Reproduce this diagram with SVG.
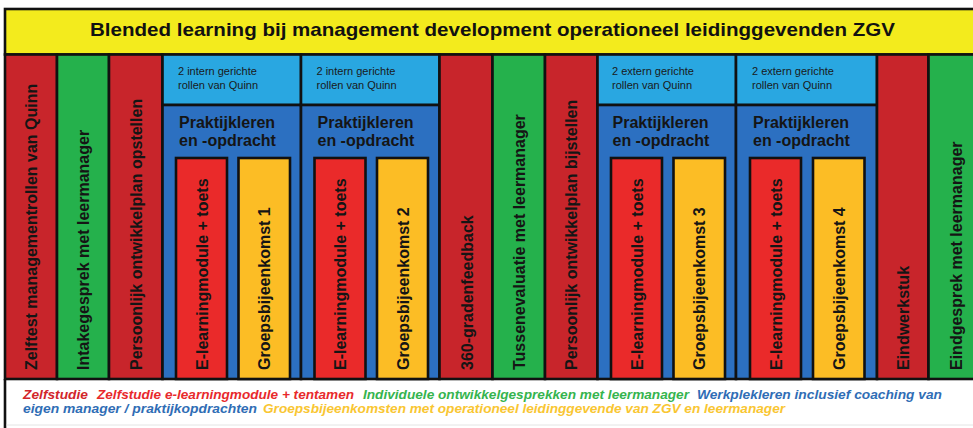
<svg xmlns="http://www.w3.org/2000/svg" width="973" height="428" viewBox="0 0 973 428">
  <style>
    .box { stroke: #111; stroke-width: 2.6; }
    .red { fill: #c8252b; }
    .red2 { fill: #ea2a2a; }
    .green { fill: #25b14c; }
    .yellow { fill: #fcbd25; }
    .lblue { fill: #29a7e1; }
    .dblue { fill: #2c70c1; }
    .title { fill: #f3eb1d; }
    .vt { font-family: "Liberation Sans", Arial, sans-serif; font-weight: bold; font-size: 16px; fill: #151515; }
    .small { font-family: "Liberation Sans", Arial, sans-serif; font-size: 11px; fill: #1a1a1a; }
    .pk { font-family: "Liberation Sans", Arial, sans-serif; font-weight: bold; font-size: 16px; fill: #151515; }
    .lg { font-family: "Liberation Sans", Arial, sans-serif; font-weight: bold; font-style: italic; font-size: 13.5px; }
  </style>

  <rect x="0" y="0" width="973" height="428" fill="#ffffff"/>

  <!-- title bar -->
  <g id="title">
    <rect class="box title" x="5" y="9" width="972" height="45.5"/>
    <text x="90" y="36" font-family="Liberation Sans, Arial, sans-serif" font-weight="bold" font-size="18.5" fill="#111" textLength="805" lengthAdjust="spacingAndGlyphs">Blended learning bij management development operationeel leidinggevenden ZGV</text>
  </g>

  <!-- single-step columns -->
  <g id="zelftest">
    <rect class="box red" x="5" y="54.5" width="52" height="324.5"/>
    <text class="vt" transform="translate(37,370) rotate(-90)">Zelftest managementrollen van Quinn</text>
  </g>
  <g id="intakegesprek">
    <rect class="box green" x="57" y="54.5" width="52" height="324.5"/>
    <text class="vt" transform="translate(89,370) rotate(-90)">Intakegesprek met leermanager</text>
  </g>
  <g id="pop-opstellen">
    <rect class="box red" x="109" y="54.5" width="53.5" height="324.5"/>
    <text class="vt" transform="translate(142,370) rotate(-90)">Persoonlijk ontwikkelplan opstellen</text>
  </g>

  <!-- block 1 -->
  <g id="blok1">
    <rect class="box lblue" x="162.5" y="54.5" width="138.5" height="50.5"/>
    <text class="small" x="178" y="75">2 intern gerichte</text>
    <text class="small" x="178" y="89">rollen van Quinn</text>
    <rect class="box dblue" x="162.5" y="105" width="138.5" height="274"/>
    <text class="pk" x="179" y="128">Praktijkleren</text>
    <text class="pk" x="179" y="146">en -opdracht</text>
    <g id="elearning1">
      <rect class="box red2" x="176" y="158" width="51" height="221"/>
      <text class="vt" transform="translate(207.5,370) rotate(-90)">E-learningmodule + toets</text>
    </g>
    <g id="groep1">
      <rect class="box yellow" x="238.5" y="158" width="51.5" height="221"/>
      <text class="vt" transform="translate(270,370) rotate(-90)">Groepsbijeenkomst 1</text>
    </g>
  </g>

  <!-- block 2 -->
  <g id="blok2">
    <rect class="box lblue" x="301" y="54.5" width="138.5" height="50.5"/>
    <text class="small" x="316.5" y="75">2 intern gerichte</text>
    <text class="small" x="316.5" y="89">rollen van Quinn</text>
    <rect class="box dblue" x="301" y="105" width="138.5" height="274"/>
    <text class="pk" x="317.5" y="128">Praktijkleren</text>
    <text class="pk" x="317.5" y="146">en -opdracht</text>
    <g id="elearning2">
      <rect class="box red2" x="314.5" y="158" width="51" height="221"/>
      <text class="vt" transform="translate(346,370) rotate(-90)">E-learningmodule + toets</text>
    </g>
    <g id="groep2">
      <rect class="box yellow" x="377" y="158" width="51" height="221"/>
      <text class="vt" transform="translate(408.5,370) rotate(-90)">Groepsbijeenkomst 2</text>
    </g>
  </g>

  <g id="feedback360">
    <rect class="box red" x="439.5" y="54.5" width="53" height="324.5"/>
    <text class="vt" transform="translate(472.5,370) rotate(-90)">360-gradenfeedback</text>
  </g>
  <g id="tussenevaluatie">
    <rect class="box green" x="492.5" y="54.5" width="52.5" height="324.5"/>
    <text class="vt" transform="translate(525,370) rotate(-90)">Tussenevaluatie met leermanager</text>
  </g>
  <g id="pop-bijstellen">
    <rect class="box red" x="545" y="54.5" width="52.5" height="324.5"/>
    <text class="vt" transform="translate(577,370) rotate(-90)">Persoonlijk ontwikkelplan bijstellen</text>
  </g>

  <!-- block 3 -->
  <g id="blok3">
    <rect class="box lblue" x="597.5" y="54.5" width="138.5" height="50.5"/>
    <text class="small" x="612" y="75">2 extern gerichte</text>
    <text class="small" x="612" y="89">rollen van Quinn</text>
    <rect class="box dblue" x="597.5" y="105" width="138.5" height="274"/>
    <text class="pk" x="612.5" y="128">Praktijkleren</text>
    <text class="pk" x="612.5" y="146">en -opdracht</text>
    <g id="elearning3">
      <rect class="box red2" x="611" y="158" width="51" height="221"/>
      <text class="vt" transform="translate(642.5,370) rotate(-90)">E-learningmodule + toets</text>
    </g>
    <g id="groep3">
      <rect class="box yellow" x="673.5" y="158" width="51.5" height="221"/>
      <text class="vt" transform="translate(705,370) rotate(-90)">Groepsbijeenkomst 3</text>
    </g>
  </g>

  <!-- block 4 -->
  <g id="blok4">
    <rect class="box lblue" x="736" y="54.5" width="141" height="50.5"/>
    <text class="small" x="752" y="75">2 extern gerichte</text>
    <text class="small" x="752" y="89">rollen van Quinn</text>
    <rect class="box dblue" x="736" y="105" width="141" height="274"/>
    <text class="pk" x="753" y="128">Praktijkleren</text>
    <text class="pk" x="753" y="146">en -opdracht</text>
    <g id="elearning4">
      <rect class="box red2" x="750" y="158" width="51" height="221"/>
      <text class="vt" transform="translate(781.5,370) rotate(-90)">E-learningmodule + toets</text>
    </g>
    <g id="groep4">
      <rect class="box yellow" x="813" y="158" width="51.5" height="221"/>
      <text class="vt" transform="translate(845,370) rotate(-90)">Groepsbijeenkomst 4</text>
    </g>
  </g>

  <g id="eindwerkstuk">
    <rect class="box red" x="877" y="54.5" width="51.5" height="324.5"/>
    <text class="vt" transform="translate(909,370) rotate(-90)">Eindwerkstuk</text>
  </g>
  <g id="eindgesprek">
    <rect class="box green" x="928.5" y="54.5" width="50" height="324.5"/>
    <text class="vt" transform="translate(962,370) rotate(-90)">Eindgesprek met leermanager</text>
  </g>

  <!-- legend -->
  <g id="legenda">
    <line x1="5" y1="379" x2="5" y2="428" stroke="#111" stroke-width="2.6"/>
    <line x1="6.5" y1="425" x2="973" y2="425" stroke="#e4e4e4" stroke-width="1"/>
    <text class="lg" x="23" y="399" fill="#d2252b" textLength="65" lengthAdjust="spacingAndGlyphs">Zelfstudie</text>
    <text class="lg" x="97" y="399" fill="#e8292c" textLength="257" lengthAdjust="spacingAndGlyphs">Zelfstudie e-learningmodule + tentamen</text>
    <text class="lg" x="363" y="399" fill="#35b44e" textLength="326" lengthAdjust="spacingAndGlyphs">Individuele ontwikkelgesprekken met leermanager</text>
    <text class="lg" x="697" y="399" fill="#2f6db5" textLength="245" lengthAdjust="spacingAndGlyphs">Werkplekleren inclusief coaching van</text>
    <text class="lg" x="23" y="413" fill="#2f6db5" textLength="234" lengthAdjust="spacingAndGlyphs">eigen manager / praktijkopdrachten</text>
    <text class="lg" x="263" y="413" fill="#f9c632" textLength="522" lengthAdjust="spacingAndGlyphs">Groepsbijeenkomsten met operationeel leidinggevende van ZGV en leermanager</text>
  </g>
</svg>
